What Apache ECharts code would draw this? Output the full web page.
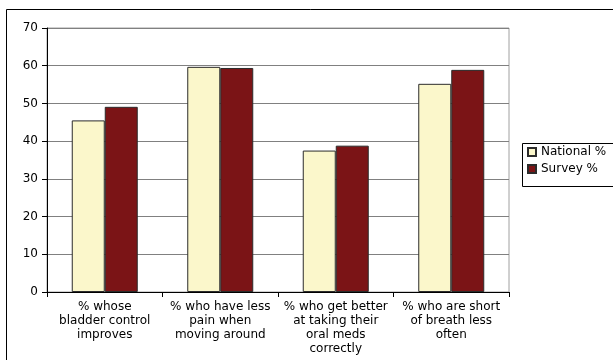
<!DOCTYPE html>
<html><head><meta charset="utf-8">
<script src="https://cdn.jsdelivr.net/npm/echarts@6/dist/echarts.min.js"></script>
<style>html,body{margin:0;padding:0;background:#fff}#c{width:613px;height:360px}</style>
</head><body><div id="c"></div>
<script>
var categories = [
  "% whose\nbladder control\nimproves",
  "% who have less\npain when\nmoving around",
  "% who get better\nat taking their\noral meds\ncorrectly",
  "% who are short\nof breath less\noften"
];
var seriesNames = ["National %", "Survey %"];
var nationalValues = [45.5, 59.7, 37.5, 55.2];
var surveyValues = [49.1, 59.4, 38.8, 58.9];
var yTicks = {min: 0, max: 70, interval: 10};

var FONT = "DejaVu Sans";
var chart = echarts.init(document.getElementById('c'), null, {renderer: 'canvas'});
chart.setOption({
  animation: false,
  backgroundColor: '#ffffff',
  textStyle: {fontFamily: FONT},
  graphic: [
    {type: 'rect', shape: {x: 6.5, y: 9.5, width: 700, height: 400}, style: {fill: 'none', stroke: '#000', lineWidth: 1}, z: 0},
    {type: 'rect', shape: {x: 522.5, y: 143.5, width: 120, height: 43}, style: {fill: '#fff', stroke: '#000', lineWidth: 1}, z: 1}
  ],
  legend: {
    orient: 'vertical',
    left: 523, top: 146,
    padding: [0, 0, 0, 4],
    itemWidth: 8, itemHeight: 8, itemGap: 5,
    icon: 'rect',
    textStyle: {fontFamily: FONT, fontSize: 12, color: '#000', padding: [1, 0, 0, 0]},
    data: seriesNames,
    z: 5
  },
  grid: {left: 47, top: 28, width: 462, height: 264, show: true, borderColor: '#a0a0a0', borderWidth: 1, backgroundColor: 'transparent'},
  xAxis: {
    type: 'category', data: categories,
    axisLine: {lineStyle: {color: '#000', width: 1}},
    axisTick: {show: true, length: 5, interval: 0, lineStyle: {color: '#000'}},
    axisLabel: {interval: 0, color: '#000', fontFamily: FONT, fontSize: 12, lineHeight: 14, margin: 8}
  },
  yAxis: {
    type: 'value', min: yTicks.min, max: yTicks.max, interval: yTicks.interval,
    axisLine: {show: true, lineStyle: {color: '#000', width: 1}},
    axisTick: {show: true, length: 5, lineStyle: {color: '#000'}},
    axisLabel: {color: '#000', fontFamily: FONT, fontSize: 12, margin: 9},
    splitLine: {show: true, lineStyle: {color: '#808080', width: 1}}
  },
  series: [
    {name: seriesNames[0], type: 'bar', data: nationalValues, barWidth: 33, barGap: '0%',
     itemStyle: {color: '#FBF7CB', borderColor: '#2b2b2b', borderWidth: 1}},
    {name: seriesNames[1], type: 'bar', data: surveyValues, barWidth: 33, barGap: '0%',
     itemStyle: {color: '#7B1416', borderColor: '#2b2b2b', borderWidth: 1}}
  ]
});
</script></body></html>
